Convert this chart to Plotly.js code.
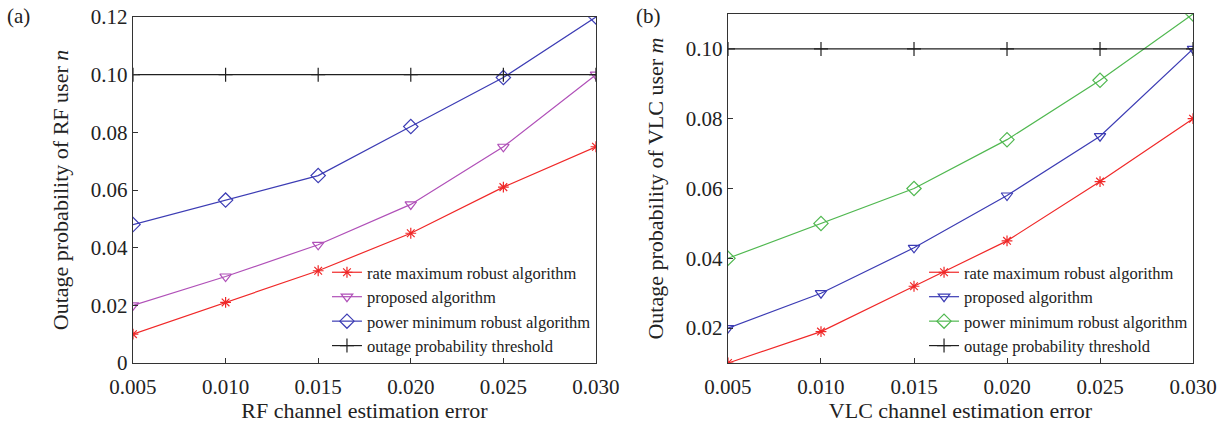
<!DOCTYPE html>
<html><head><meta charset="utf-8">
<script src="https://cdn.plot.ly/plotly-3.0.1.min.js"></script>
<style>html,body{margin:0;padding:0;background:#fff}#chart{width:1219px;height:423px}</style>
</head><body><div id="chart"></div>
<script>
const errors = [0.005, 0.010, 0.015, 0.020, 0.025, 0.030];
const xTickText = ['0.005','0.010','0.015','0.020','0.025','0.030'];
// Panel (a): RF user n
const rfRateMax = [0.010, 0.021, 0.032, 0.045, 0.061, 0.075];
const rfProposed = [0.020, 0.030, 0.041, 0.055, 0.075, 0.100];
const rfPowerMin = [0.048, 0.0565, 0.065, 0.082, 0.099, 0.120];
const rfThreshold = [0.10, 0.10, 0.10, 0.10, 0.10, 0.10];
// Panel (b): VLC user m
const vlcRateMax = [0.010, 0.019, 0.032, 0.045, 0.062, 0.080];
const vlcProposed = [0.020, 0.030, 0.043, 0.058, 0.075, 0.100];
const vlcPowerMin = [0.040, 0.050, 0.060, 0.074, 0.091, 0.110];
const vlcThreshold = [0.10, 0.10, 0.10, 0.10, 0.10, 0.10];
const names = ['rate maximum robust algorithm','proposed algorithm','power minimum robust algorithm','outage probability threshold'];

const FONT = 'Liberation Serif, DejaVu Serif, serif';
const RED = '#f02828', PURPLE = '#b050b8', BLUE = '#3c3cb4', GREEN = '#50b850', BLACK = '#202020';

function tr(y, name, color, symbol, xa, ya, leg, size) {
  return {x: errors, y: y, name: name, type: 'scatter', mode: 'lines+markers',
    xaxis: xa, yaxis: ya, legend: leg,
    line: {color: color, width: 1.2},
    marker: {symbol: symbol, size: size, color: color, line: {color: color, width: 1.2}}};
}
const data = [
  tr(rfRateMax, names[0], RED, 'asterisk-open', 'x', 'y', 'legend', 9),
  tr(rfProposed, names[1], PURPLE, 'triangle-down-open', 'x', 'y', 'legend', 10),
  tr(rfPowerMin, names[2], BLUE, 'diamond-open', 'x', 'y', 'legend', 11),
  tr(rfThreshold, names[3], BLACK, 'cross-thin-open', 'x', 'y', 'legend', 10),
  tr(vlcRateMax, names[0], RED, 'asterisk-open', 'x2', 'y2', 'legend2', 9),
  tr(vlcProposed, names[1], BLUE, 'triangle-down-open', 'x2', 'y2', 'legend2', 10),
  tr(vlcPowerMin, names[2], GREEN, 'diamond-open', 'x2', 'y2', 'legend2', 11),
  tr(vlcThreshold, names[3], BLACK, 'cross-thin-open', 'x2', 'y2', 'legend2', 10)
];
const axBase = {showline: true, mirror: true, linecolor: '#333', linewidth: 1.2, ticks: 'inside',
  ticklen: 5, tickcolor: '#333', showgrid: false, zeroline: false,
  tickfont: {family: FONT, size: 21, color: '#222'}};
const TF = {family: FONT, size: 22, color: '#222'};
const layout = {
  width: 1219, height: 423, margin: {l: 0, r: 0, t: 0, b: 0},
  paper_bgcolor: '#fff', plot_bgcolor: '#fff', font: {family: FONT, color: '#222'},
  xaxis: Object.assign({}, axBase, {domain: [0.1091, 0.4889], range: [0.005, 0.030],
    tickvals: errors, ticktext: xTickText, anchor: 'y', ticklabelstandoff: 5,
    title: {text: 'RF channel estimation error', font: TF, standoff: 6}}),
  yaxis: Object.assign({}, axBase, {domain: [0.1418, 0.9598], range: [0, 0.12],
    tickvals: [0, 0.02, 0.04, 0.06, 0.08, 0.10, 0.12], ticktext: ['0','0.02','0.04','0.06','0.08','0.10','0.12'], anchor: 'x',
    title: {text: 'Outage probability of RF user <i>n</i>', font: TF, standoff: 16}}),
  xaxis2: Object.assign({}, axBase, {domain: [0.5972, 0.9787], range: [0.005, 0.030],
    tickvals: errors, ticktext: xTickText, anchor: 'y2', ticklabelstandoff: 5,
    title: {text: 'VLC channel estimation error', font: TF, standoff: 6}}),
  yaxis2: Object.assign({}, axBase, {domain: [0.1418, 0.9669], range: [0.01, 0.11],
    tickvals: [0.02, 0.04, 0.06, 0.08, 0.10], ticktext: ['0.02','0.04','0.06','0.08','0.10'], anchor: 'x2',
    title: {text: 'Outage probability of VLC user <i>m</i>', font: TF, standoff: 16}}),
  legend: {x: 0.4889, xanchor: 'right', y: 0.1418, yanchor: 'bottom', bgcolor: 'rgba(255,255,255,0)',
    font: {family: FONT, size: 16.5, color: '#222'}, tracegroupgap: 0, itemwidth: 30},
  legend2: {x: 0.9787, xanchor: 'right', y: 0.1418, yanchor: 'bottom', bgcolor: 'rgba(255,255,255,0)',
    font: {family: FONT, size: 16.5, color: '#222'}, tracegroupgap: 0, itemwidth: 30},
  annotations: [
    {text: '(a)', x: 0.004, y: 0.995, xref: 'paper', yref: 'paper', xanchor: 'left', yanchor: 'top', showarrow: false, font: {family: FONT, size: 21}},
    {text: '(b)', x: 0.520, y: 0.995, xref: 'paper', yref: 'paper', xanchor: 'left', yanchor: 'top', showarrow: false, font: {family: FONT, size: 21}}
  ]
};
Plotly.newPlot('chart', data, layout, {displayModeBar: false, staticPlot: true});
</script></body></html>
